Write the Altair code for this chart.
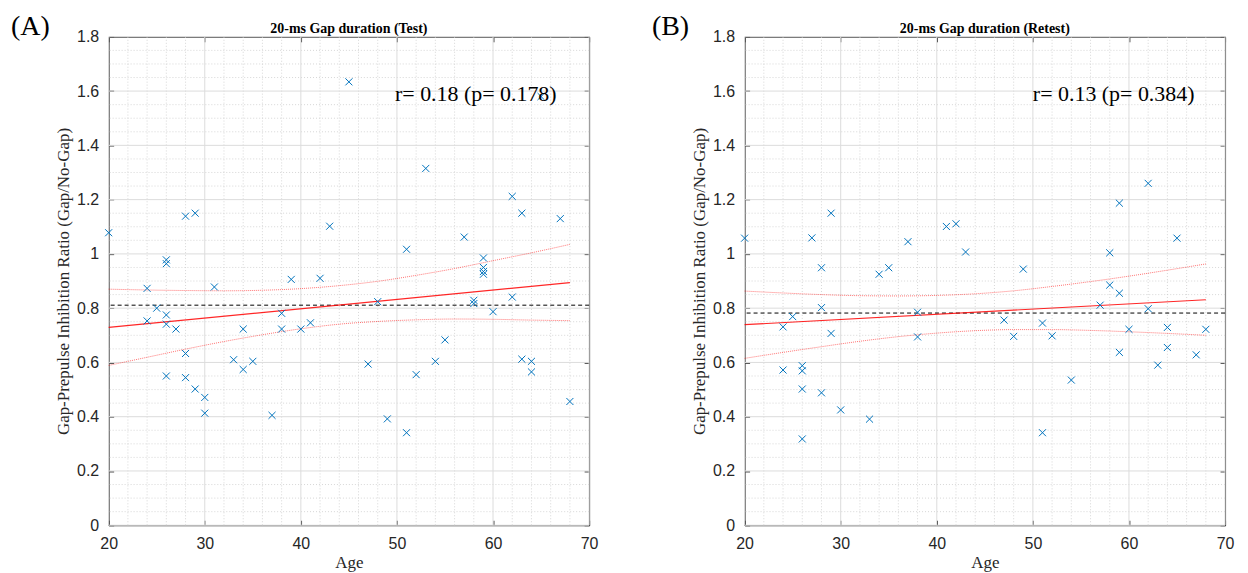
import altair as alt
import pandas as pd

# ---------------- data ----------------
# Panel A (Test)
age_A = [20, 24, 24, 25, 26, 26, 26, 26, 26, 27, 28, 28, 28, 29, 29, 30, 30, 31, 33, 34,
         34, 35, 37, 38, 38, 39, 40, 41, 42, 43, 45, 47, 48, 49, 51, 51, 52, 53, 54, 55,
         57, 58, 58, 59, 59, 59, 59, 60, 62, 62, 63, 63, 64, 64, 65, 67, 68]
gpir_A = [1.078, 0.873, 0.753, 0.800, 0.978, 0.964, 0.775, 0.741, 0.550, 0.723, 1.139, 0.633,
          0.544, 1.150, 0.502, 0.471, 0.413, 0.878, 0.610, 0.723, 0.574, 0.604, 0.405, 0.781,
          0.723, 0.906, 0.723, 0.746, 0.910, 1.102, 1.634, 0.594, 0.824, 0.392, 1.017, 0.341,
          0.555, 1.315, 0.604, 0.683, 1.062, 0.829, 0.817, 0.985, 0.950, 0.935, 0.925, 0.787,
          1.212, 0.841, 1.150, 0.612, 0.604, 0.565, 1.580, 1.130, 0.456]

# Panel B (Retest)
age_B = [20, 24, 24, 25, 26, 26, 26, 26, 27, 28, 28, 28, 29, 29, 30, 33, 34, 35, 37, 38,
         38, 41, 42, 43, 47, 48, 49, 51, 51, 52, 54, 57, 58, 58, 59, 59, 59, 60, 62, 62,
         63, 64, 64, 65, 67, 68]
gpir_B = [1.058, 0.731, 0.572, 0.769, 0.588, 0.569, 0.502, 0.318, 1.059, 0.949, 0.802, 0.488,
          1.150, 0.707, 0.425, 0.391, 0.925, 0.949, 1.045, 0.785, 0.694, 1.101, 1.111, 1.007,
          0.756, 0.696, 0.944, 0.745, 0.341, 0.698, 0.535, 0.811, 1.004, 0.885, 1.187, 0.855,
          0.637, 0.722, 1.260, 0.798, 0.590, 0.729, 0.655, 1.058, 0.628, 0.722]

# regression fit lines (end points) and mean lines
fit_x = [20, 68]
fit_A = [0.729, 0.894]
fit_B = [0.739, 0.831]
mean_A = 0.811
mean_B = 0.782

# confidence bounds
ci_x = [20, 24, 28, 32, 36, 40, 44, 48, 52, 56, 60, 64, 68]
ci_up_A = [0.870, 0.867, 0.865, 0.864, 0.866, 0.872, 0.883, 0.899, 0.921, 0.946, 0.975, 1.004, 1.035]
ci_lo_A = [0.589, 0.619, 0.649, 0.677, 0.702, 0.724, 0.741, 0.751, 0.757, 0.760, 0.759, 0.756, 0.754]
ci_up_B = [0.863, 0.856, 0.850, 0.846, 0.845, 0.847, 0.853, 0.864, 0.880, 0.898, 0.918, 0.940, 0.963]
ci_lo_B = [0.615, 0.637, 0.658, 0.678, 0.695, 0.708, 0.717, 0.721, 0.721, 0.718, 0.713, 0.707, 0.700]

# ticks / grid
x_major = [20, 30, 40, 50, 60, 70]
x_minor = [22, 24, 26, 28, 32, 34, 36, 38, 42, 44, 46, 48, 52, 54, 56, 58, 62, 64, 66, 68]
y_major = [0, 0.2, 0.4, 0.6, 0.8, 1.0, 1.2, 1.4, 1.6, 1.8]
y_minor = [0.05, 0.1, 0.15, 0.25, 0.3, 0.35, 0.45, 0.5, 0.55, 0.65, 0.7, 0.75, 0.85, 0.9,
           0.95, 1.05, 1.1, 1.15, 1.25, 1.3, 1.35, 1.45, 1.5, 1.55, 1.65, 1.7, 1.75]

titles = ["20-ms Gap duration (Test)", "20-ms Gap duration (Retest)"]
labels = ["(A)", "(B)"]
stats = ["r= 0.18 (p= 0.178)", "r= 0.13 (p= 0.384)"]
stat_pos = [(49.8, 1.59), (50.0, 1.59)]

XPATH = "M-1,-1L1,1M-1,1L1,-1"
SERIF = "Liberation Serif"
SANS = "Liberation Sans"
W, H = 482, 490


def panel(ages, vals, fit_y, up, lo, mean_v, title, label, stat, spos, lab_x):
    xs = alt.Scale(domain=[20, 70], nice=False, zero=False)
    ys = alt.Scale(domain=[0, 1.8], nice=False, zero=False)

    gxm = alt.Chart(pd.DataFrame({"v": x_minor})).mark_rule(
        color="#cdcdcd", strokeWidth=0.8, strokeDash=[1, 2]
    ).encode(x=alt.X("v:Q", scale=xs, axis=None))
    gym = alt.Chart(pd.DataFrame({"v": y_minor})).mark_rule(
        color="#cdcdcd", strokeWidth=0.8, strokeDash=[1, 2]
    ).encode(y=alt.Y("v:Q", scale=ys, axis=None))
    gxM = alt.Chart(pd.DataFrame({"v": x_major})).mark_rule(
        color="#dcdcdc", strokeWidth=1
    ).encode(x=alt.X("v:Q", scale=xs, axis=None))
    gyM = alt.Chart(pd.DataFrame({"v": y_major})).mark_rule(
        color="#dcdcdc", strokeWidth=1
    ).encode(y=alt.Y("v:Q", scale=ys, axis=None))

    mean_rule = alt.Chart(pd.DataFrame({"v": [mean_v]})).mark_rule(
        color="#000000", strokeWidth=1, strokeDash=[4, 3]
    ).encode(y=alt.Y("v:Q", scale=ys, axis=None))

    ci_df = pd.DataFrame({"age": ci_x, "up": up, "lo": lo})
    ci_u = alt.Chart(ci_df).mark_line(
        color="#ff0000", strokeWidth=1, strokeDash=[1, 1], opacity=0.55, interpolate="monotone"
    ).encode(x=alt.X("age:Q", scale=xs, axis=None), y=alt.Y("up:Q", scale=ys, axis=None))
    ci_l = alt.Chart(ci_df).mark_line(
        color="#ff0000", strokeWidth=1, strokeDash=[1, 1], opacity=0.55, interpolate="monotone"
    ).encode(x=alt.X("age:Q", scale=xs, axis=None), y=alt.Y("lo:Q", scale=ys, axis=None))

    top_ax = alt.Axis(orient="top", values=x_major, labels=False, title=None, offset=-5,
                      tickSize=5, domain=False, grid=False, tickColor="#262626")
    right_ax = alt.Axis(orient="right", values=y_major, labels=False, title=None, offset=-5,
                        tickSize=5, domain=False, grid=False, tickColor="#262626")
    fit = alt.Chart(pd.DataFrame({"age": fit_x, "val": fit_y})).mark_line(
        color="#ff0000", strokeWidth=1.2, opacity=0.85
    ).encode(x=alt.X("age:Q", scale=xs, axis=top_ax), y=alt.Y("val:Q", scale=ys, axis=right_ax))

    bottom_ax = alt.Axis(orient="bottom", values=x_major, format="d", title="Age", offset=-5,
                         tickSize=5, labelPadding=10, titlePadding=3, domain=False, grid=False,
                         labelFlush=False, tickColor="#262626")
    left_ax = alt.Axis(orient="left", values=y_major, format="~g",
                       title="Gap-Prepulse Inhibition Ratio (Gap/No-Gap)", offset=-5,
                       tickSize=5, labelPadding=10, titlePadding=4, domain=False, grid=False,
                       labelFlush=False, tickColor="#262626")
    pts = alt.Chart(pd.DataFrame({"age": ages, "val": vals})).mark_point(
        shape=XPATH, size=50, filled=False, color="#0072BD", strokeWidth=1, opacity=1
    ).encode(x=alt.X("age:Q", scale=xs, axis=bottom_ax), y=alt.Y("val:Q", scale=ys, axis=left_ax))

    stat_t = alt.Chart(pd.DataFrame({"x": [spos[0]], "y": [spos[1]], "t": [stat]})).mark_text(
        font=SERIF, fontSize=22, align="left", baseline="middle", color="#000000"
    ).encode(x=alt.X("x:Q", scale=xs, axis=None), y=alt.Y("y:Q", scale=ys, axis=None), text="t:N")

    lab_t = alt.Chart(pd.DataFrame({"t": [label]})).mark_text(
        font=SERIF, fontSize=28, align="left", baseline="alphabetic", color="#000000"
    ).encode(x=alt.value(lab_x), y=alt.value(-2), text="t:N")

    title_t = alt.Chart(pd.DataFrame({"t": [title]})).mark_text(
        font=SERIF, fontSize=14, fontWeight="bold", align="center", baseline="alphabetic",
        color="#000000"
    ).encode(x=alt.value(W / 2), y=alt.value(-4), text="t:N")

    return alt.layer(gxm, gym, gxM, gyM, mean_rule, ci_u, ci_l, fit, pts, stat_t, lab_t, title_t).resolve_axis(
        x="independent", y="independent"
    ).properties(width=W, height=H)


left = panel(age_A, gpir_A, fit_A, ci_up_A, ci_lo_A, mean_A, titles[0], labels[0], stats[0], stat_pos[0], -98)
right = panel(age_B, gpir_B, fit_B, ci_up_B, ci_lo_B, mean_B, titles[1], labels[1], stats[1], stat_pos[1], -93)

chart = alt.hconcat(left, right, spacing=52).properties(
    padding={"left": 2, "top": 3, "right": 5, "bottom": 0},
    background="white",
).configure_view(
    stroke="#262626", strokeWidth=1
).configure_axis(
    labelFont=SANS, labelFontSize=16, labelColor="#262626",
    titleFont=SERIF, titleFontSize=17, titleFontWeight="normal", titleColor="#262626",
)

chart.save("out.html", embed_options={"renderer": "svg", "actions": False})
